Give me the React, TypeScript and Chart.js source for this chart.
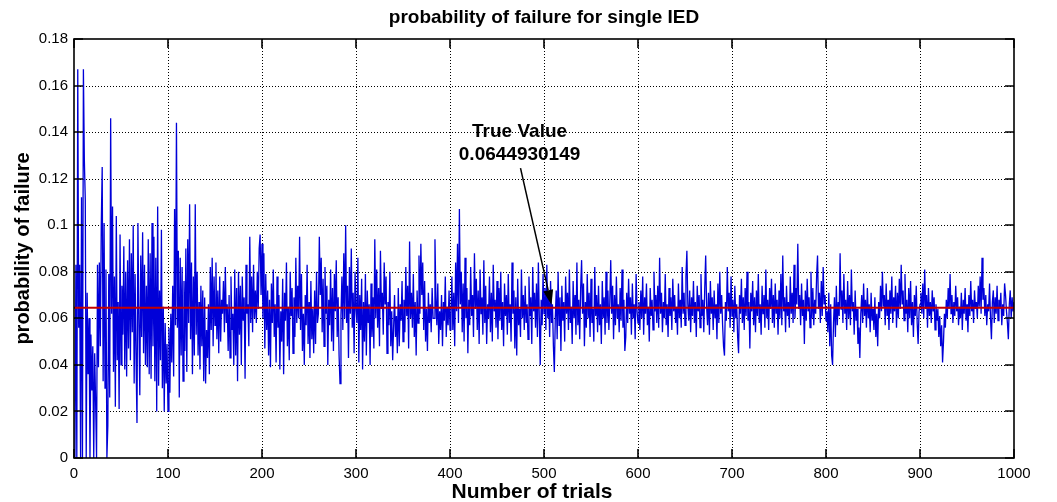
import React, { useEffect, useRef } from "react";
import { Chart, registerables } from "chart.js";

Chart.register(...registerables);

// ---- text ----
const TITLE = "probability of failure for single IED";
const X_LABEL = "Number of trials";
const Y_LABEL = "probability of failure";
const ANNOTATION_LINES = ["True Value", "0.0644930149"];

// ---- reference value ----
const TRUE_VALUE = 0.0644930149;

// ---- axes ----
const X_TICKS = [0, 100, 200, 300, 400, 500, 600, 700, 800, 900, 1000];
const Y_TICKS = [0, 0.02, 0.04, 0.06, 0.08, 0.1, 0.12, 0.14, 0.16, 0.18];

// ---- estimated probability of failure per trial (in thousandths), trials 1..1000 ----
const perMille001to200 = [
  0, 83, 0, 167, 56, 83, 0, 112, 0, 167, 128, 111, 0, 71, 36, 60, 0, 53, 29, 48,
  0, 45, 24, 0, 83, 39, 84, 48, 100, 125, 33, 101, 30, 81, 0, 14, 79, 26, 146, 62,
  108, 37, 78, 22, 104, 42, 67, 21, 96, 40, 74, 53, 91, 38, 80, 35, 85, 47, 94, 42,
  88, 54, 100, 32, 79, 43, 15, 101, 60, 27, 87, 52, 97, 45, 83, 40, 74, 39, 94, 36,
  88, 34, 101, 48, 95, 33, 86, 20, 108, 31, 72, 42, 98, 30, 65, 20, 58, 32, 49, 20,
  56, 28, 62, 41, 74, 35, 107, 57, 144, 56, 89, 26, 86, 44, 82, 33, 76, 46, 90, 37,
  94, 58, 109, 51, 84, 36, 78, 44, 109, 53, 80, 44, 67, 38, 74, 48, 72, 33, 69, 32,
  55, 43, 66, 36, 82, 55, 86, 48, 78, 57, 84, 51, 72, 45, 78, 50, 68, 62, 76, 54,
  82, 58, 66, 46, 70, 43, 78, 55, 62, 40, 81, 44, 73, 33, 80, 53, 74, 40, 78, 59,
  69, 34, 83, 62, 66, 48, 95, 58, 78, 54, 83, 60, 72, 58, 80, 64, 90, 96, 70, 92,
];
const perMille201to400 = [
  60, 88, 47, 79, 55, 72, 44, 68, 39, 75, 58, 81, 52, 66, 41, 78, 56, 70, 38, 63,
  50, 77, 36, 71, 59, 84, 48, 65, 42, 80, 61, 73, 45, 69, 52, 86, 58, 74, 60, 95,
  55, 79, 46, 62, 40, 70, 57, 83, 49, 67, 43, 76, 51, 64, 45, 72, 49, 80, 58, 62,
  95, 70, 86, 54, 77, 48, 82, 62, 74, 40, 68, 57, 81, 50, 73, 46, 79, 63, 85, 52,
  69, 44, 32, 61, 78, 55, 88, 60, 100, 58, 74, 43, 82, 62, 90, 56, 71, 45, 80, 64,
  58, 86, 41, 70, 55, 77, 38, 67, 50, 79, 44, 72, 58, 66, 40, 75, 52, 69, 47, 94,
  60, 81, 56, 73, 48, 89, 64, 71, 53, 84, 66, 78, 45, 67, 57, 80, 48, 63, 42, 56,
  70, 52, 61, 45, 73, 48, 66, 59, 76, 50, 68, 54, 82, 61, 74, 47, 93, 60, 71, 56,
  79, 52, 67, 44, 72, 58, 87, 62, 92, 70, 84, 55, 76, 50, 64, 46, 71, 58, 66, 54,
  73, 60, 60, 94, 69, 57, 75, 49, 63, 55, 70, 48, 67, 59, 78, 52, 65, 57, 72, 55,
];
const perMille401to600 = [
  62, 78, 55, 71, 48, 84, 63, 92, 58, 107, 66, 80, 54, 75, 50, 86, 60, 73, 45, 68,
  57, 82, 61, 70, 52, 88, 64, 77, 55, 72, 49, 81, 62, 69, 53, 85, 58, 74, 49, 66,
  60, 78, 54, 71, 50, 83, 63, 68, 56, 76, 51, 73, 59, 80, 55, 67, 48, 75, 61, 70,
  53, 79, 58, 66, 50, 84, 62, 72, 47, 69, 44, 77, 57, 64, 52, 81, 60, 70, 55, 74,
  58, 66, 51, 78, 61, 69, 49, 82, 63, 71, 56, 75, 52, 84, 60, 40, 68, 57, 79, 62,
  73, 55, 83, 60, 70, 52, 76, 58, 66, 48, 37, 60, 72, 51, 80, 57, 69, 46, 74, 59,
  67, 50, 78, 62, 71, 55, 81, 58, 65, 49, 76, 60, 70, 53, 84, 57, 68, 51, 73, 85,
  62, 75, 48, 67, 56, 79, 60, 71, 52, 77, 58, 64, 50, 82, 61, 70, 54, 74, 57, 66,
  49, 76, 60, 69, 53, 80, 58, 72, 55, 67, 85, 62, 74, 51, 70, 57, 78, 60, 66, 54,
  73, 59, 81, 56, 68, 46, 52, 71, 58, 77, 62, 69, 53, 75, 60, 66, 51, 79, 63, 58,
];
const perMille601to800 = [
  67, 55, 72, 60, 78, 53, 69, 62, 75, 57, 65, 50, 73, 61, 68, 55, 80, 63, 70, 58,
  74, 56, 86, 62, 71, 54, 67, 60, 79, 57, 66, 52, 73, 61, 69, 55, 77, 63, 70, 58,
  65, 53, 75, 60, 68, 56, 82, 62, 71, 57, 78, 89, 66, 59, 72, 54, 69, 61, 76, 58,
  67, 52, 74, 63, 70, 56, 79, 61, 68, 54, 73, 87, 65, 57, 71, 53, 76, 62, 69, 55,
  72, 60, 66, 51, 75, 58, 80, 62, 70, 57, 48, 44, 67, 59, 82, 63, 71, 56, 78, 61,
  68, 54, 74, 60, 66, 52, 45, 70, 62, 77, 58, 69, 55, 73, 61, 80, 59, 67, 47, 71,
  63, 76, 57, 69, 54, 72, 61, 79, 58, 66, 53, 74, 62, 70, 56, 81, 60, 68, 55, 73,
  64, 77, 58, 70, 56, 75, 62, 68, 53, 72, 60, 79, 57, 87, 63, 69, 54, 74, 61, 67,
  56, 78, 62, 71, 58, 83, 60, 73, 66, 92, 64, 70, 57, 75, 61, 68, 49, 72, 59, 77,
  63, 69, 56, 80, 60, 73, 57, 68, 62, 78, 87, 64, 71, 58, 76, 61, 82, 66, 70, 59,
];
const perMille801to1000 = [
  63, 54, 71, 48, 66, 44, 40, 58, 69, 52, 74, 57, 67, 61, 88, 64, 72, 58, 79, 62,
  68, 55, 76, 60, 70, 57, 81, 63, 67, 53, 72, 59, 64, 49, 56, 43, 62, 70, 58, 75,
  61, 68, 56, 73, 60, 66, 54, 71, 59, 64, 55, 69, 52, 62, 48, 67, 60, 74, 63, 80,
  65, 70, 57, 75, 61, 68, 55, 72, 62, 78, 58, 69, 63, 74, 56, 71, 60, 77, 64, 83,
  66, 72, 59, 79, 62, 68, 54, 73, 60, 76, 57, 67, 52, 70, 61, 74, 58, 49, 63, 66,
  71, 62, 75, 60, 81, 64, 70, 56, 73, 61, 67, 58, 72, 63, 69, 55, 66, 59, 64, 52,
  61, 48, 57, 41, 50, 62, 56, 68, 60, 73, 64, 79, 62, 70, 58, 67, 61, 74, 63, 69,
  57, 65, 60, 71, 55, 68, 62, 73, 59, 66, 54, 70, 61, 76, 63, 68, 58, 72, 64, 67,
  60, 74, 65, 78, 62, 86, 68, 73, 61, 70, 57, 66, 63, 75, 60, 51, 67, 72, 58, 69,
  62, 74, 59, 68, 64, 71, 57, 66, 61, 75, 70, 63, 58, 51, 66, 72, 60, 69, 63, 67,
];

// ---- annotation anchors (data coordinates) ----
const ARROW_FROM = { x: 475, y: 0.1245 };
const ARROW_TO = { x: 508, y: 0.0657 };
const ANNOTATION_TEXT_AT = { x: 474, y: 0.1355 };

const FONT = "'Liberation Sans', Arial, Helvetica, sans-serif";

const matlabPlugin = {
  id: "matlabDecor",
  beforeDatasetsDraw(chart: any) {
    const { ctx, chartArea: a, scales } = chart;
    const xs = scales.x;
    const ys = scales.y;
    ctx.save();
    ctx.strokeStyle = "#000";
    ctx.lineWidth = 1;
    ctx.setLineDash([1, 2]);
    X_TICKS.slice(1, -1).forEach((v) => {
      const px = Math.round(xs.getPixelForValue(v)) + 0.5;
      ctx.beginPath();
      ctx.moveTo(px, a.top);
      ctx.lineTo(px, a.bottom);
      ctx.stroke();
    });
    Y_TICKS.slice(1, -1).forEach((v) => {
      const py = Math.round(ys.getPixelForValue(v)) + 0.5;
      ctx.beginPath();
      ctx.moveTo(a.left, py);
      ctx.lineTo(a.right, py);
      ctx.stroke();
    });
    ctx.restore();
  },
  afterDatasetsDraw(chart: any) {
    const { ctx, chartArea: a, scales } = chart;
    const xs = scales.x;
    const ys = scales.y;
    ctx.save();
    ctx.setLineDash([]);
    ctx.strokeStyle = "#000";
    // inward tick marks on all four sides
    ctx.lineWidth = 1.6;
    const tl = 9;
    X_TICKS.forEach((v) => {
      const px = Math.round(xs.getPixelForValue(v));
      ctx.beginPath();
      ctx.moveTo(px, a.bottom);
      ctx.lineTo(px, a.bottom - tl);
      ctx.moveTo(px, a.top);
      ctx.lineTo(px, a.top + tl);
      ctx.stroke();
    });
    Y_TICKS.forEach((v) => {
      const py = Math.round(ys.getPixelForValue(v));
      ctx.beginPath();
      ctx.moveTo(a.left, py);
      ctx.lineTo(a.left + tl, py);
      ctx.moveTo(a.right, py);
      ctx.lineTo(a.right - tl, py);
      ctx.stroke();
    });
    // box
    ctx.lineWidth = 1.6;
    ctx.strokeRect(a.left, a.top, a.right - a.left, a.bottom - a.top);

    // annotation arrow
    const x0 = xs.getPixelForValue(ARROW_FROM.x);
    const y0 = ys.getPixelForValue(ARROW_FROM.y);
    const x1 = xs.getPixelForValue(ARROW_TO.x);
    const y1 = ys.getPixelForValue(ARROW_TO.y);
    const ang = Math.atan2(y1 - y0, x1 - x0);
    const headLen = 15;
    const headHalf = 5;
    const bx = x1 - headLen * Math.cos(ang);
    const by = y1 - headLen * Math.sin(ang);
    ctx.lineWidth = 1.5;
    ctx.beginPath();
    ctx.moveTo(x0, y0);
    ctx.lineTo(bx, by);
    ctx.stroke();
    ctx.fillStyle = "#000";
    ctx.beginPath();
    ctx.moveTo(x1, y1);
    ctx.lineTo(bx + headHalf * Math.sin(ang), by - headHalf * Math.cos(ang));
    ctx.lineTo(bx - headHalf * Math.sin(ang), by + headHalf * Math.cos(ang));
    ctx.closePath();
    ctx.fill();

    // annotation text
    const tx = xs.getPixelForValue(ANNOTATION_TEXT_AT.x);
    const ty = ys.getPixelForValue(ANNOTATION_TEXT_AT.y);
    ctx.font = `bold 19px ${FONT}`;
    ctx.textAlign = "center";
    ctx.textBaseline = "middle";
    ANNOTATION_LINES.forEach((line, i) => {
      ctx.fillText(line, tx, ty - 11 + i * 23);
    });
    ctx.restore();
  },
  afterDraw(chart: any) {
    const { ctx, chartArea: a } = chart;
    const cx = (a.left + a.right) / 2;
    const cy = (a.top + a.bottom) / 2;
    ctx.save();
    ctx.fillStyle = "#000";
    ctx.textAlign = "center";
    ctx.textBaseline = "middle";
    ctx.font = `bold 19px ${FONT}`;
    ctx.fillText(TITLE, cx, 18);
    ctx.font = `bold 21px ${FONT}`;
    ctx.fillText(X_LABEL, cx - 12, a.bottom + 34);
    ctx.translate(23, cy);
    ctx.rotate(-Math.PI / 2);
    ctx.font = `bold 20px ${FONT}`;
    ctx.fillText(Y_LABEL, 0, 0);
    ctx.restore();
  },
};

export default function App() {
  const canvasRef = useRef<HTMLCanvasElement | null>(null);

  useEffect(() => {
    const canvas = canvasRef.current;
    if (!canvas) return;
    const perMille = [
      ...perMille001to200,
      ...perMille201to400,
      ...perMille401to600,
      ...perMille601to800,
      ...perMille801to1000,
    ];
    const series = perMille.map((v, i) => ({ x: i + 1, y: v / 1000 }));
    const trueLine = [
      { x: X_TICKS[0], y: TRUE_VALUE },
      { x: X_TICKS[X_TICKS.length - 1], y: TRUE_VALUE },
    ];

    const chart = new Chart(canvas, {
      type: "line",
      data: {
        datasets: [
          {
            label: "true value",
            data: trueLine,
            borderColor: "#c40000",
            borderWidth: 2,
            pointRadius: 0,
            order: 0,
          },
          {
            label: "estimate",
            data: series,
            borderColor: "#0000d8",
            borderWidth: 1.3,
            pointRadius: 0,
            tension: 0,
            order: 1,
          },
        ],
      },
      plugins: [matlabPlugin],
      options: {
        animation: false,
        responsive: false,
        maintainAspectRatio: false,
        events: [],
        layout: { padding: { left: 0, right: 43, top: 39, bottom: 0 } },
        plugins: {
          legend: { display: false },
          tooltip: { enabled: false },
          title: { display: false },
        },
        scales: {
          x: {
            type: "linear",
            min: X_TICKS[0],
            max: X_TICKS[X_TICKS.length - 1],
            afterBuildTicks: (scale: any) => {
              scale.ticks = X_TICKS.map((v) => ({ value: v }));
            },
            afterFit: (scale: any) => {
              scale.height = 44;
            },
            grid: { display: false, drawTicks: false },
            border: { display: false },
            ticks: {
              color: "#000",
              padding: 7,
              maxRotation: 0,
              autoSkip: false,
              font: { family: FONT, size: 15 },
              callback: (v: any) => String(v),
            },
          },
          y: {
            type: "linear",
            min: Y_TICKS[0],
            max: Y_TICKS[Y_TICKS.length - 1],
            afterBuildTicks: (scale: any) => {
              scale.ticks = Y_TICKS.map((v) => ({ value: v }));
            },
            afterFit: (scale: any) => {
              scale.width = 74;
            },
            grid: { display: false, drawTicks: false },
            border: { display: false },
            ticks: {
              color: "#000",
              padding: 6,
              autoSkip: false,
              font: { family: FONT, size: 15 },
              callback: (v: any) => String(Number(Number(v).toFixed(2))),
            },
          },
        },
      },
    } as any);

    return () => chart.destroy();
  }, []);

  return (
    <div style={{ position: "fixed", left: 0, top: 0, width: 1057, height: 502, background: "#fff" }}>
      <canvas ref={canvasRef} width={1057} height={502} style={{ display: "block" }} />
    </div>
  );
}
